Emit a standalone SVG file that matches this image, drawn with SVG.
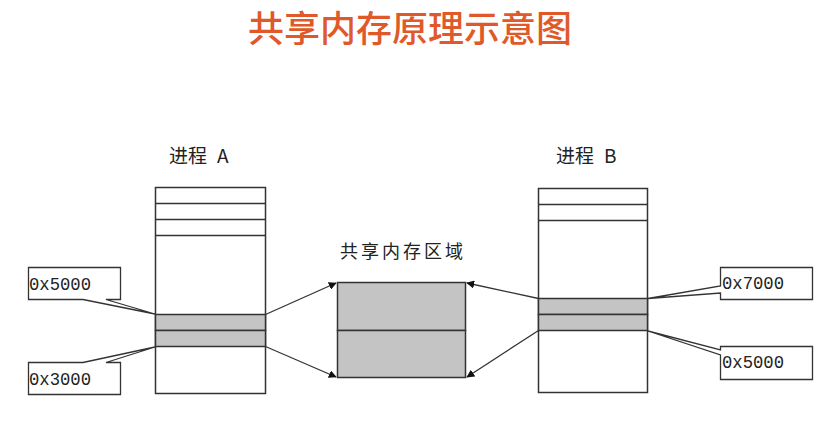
<svg xmlns="http://www.w3.org/2000/svg" width="839" height="426" viewBox="0 0 839 426">
<style>
.box{fill:#fff;stroke:#333;stroke-width:1.5}
.shade{fill:#c4c4c4;stroke:#333;stroke-width:1.5}
.ln{stroke:#333;stroke-width:1.5;fill:none}
.cj{font-family:"Noto Sans CJK SC","Noto Sans",sans-serif;fill:#222}
.mono{font-family:"Liberation Mono","DejaVu Sans Mono",monospace;font-size:19px;fill:#222}
.call{fill:#fff;stroke:#333;stroke-width:1.3}
.arr{stroke:#333;stroke-width:1.3;fill:none;marker-end:url(#ah)}
</style>
<defs>
<marker id="ah" viewBox="0 0 10 10" refX="9" refY="5" markerWidth="8" markerHeight="8" markerUnits="userSpaceOnUse" orient="auto">
<path d="M0,0 L10,5 L0,10 Z" fill="#111"/>
</marker>
</defs>
<rect width="839" height="426" fill="#fff"/>
<text id="title" x="410" y="42" text-anchor="middle" class="cj" style="font-size:36px;fill:#E0592A;font-weight:500">共享内存原理示意图</text>

<g id="processA">
<text x="169" y="163" class="cj" style="font-size:19px">进程<tspan x="217">A</tspan></text>
<rect x="155.5" y="187.5" width="110" height="206" class="box"/>
<line x1="155.5" y1="203.5" x2="265.5" y2="203.5" class="ln"/>
<line x1="155.5" y1="219.5" x2="265.5" y2="219.5" class="ln"/>
<line x1="155.5" y1="235.5" x2="265.5" y2="235.5" class="ln"/>
<rect x="155.5" y="314.5" width="110" height="16" class="shade"/>
<rect x="155.5" y="330.5" width="110" height="16" class="shade"/>
</g>

<g id="processB">
<text x="556" y="163" class="cj" style="font-size:19px">进程<tspan x="604">B</tspan></text>
<rect x="538.5" y="188.5" width="109" height="204" class="box"/>
<line x1="538.5" y1="204.5" x2="647.5" y2="204.5" class="ln"/>
<line x1="538.5" y1="220.5" x2="647.5" y2="220.5" class="ln"/>
<rect x="538.5" y="298.5" width="109" height="16" class="shade"/>
<rect x="538.5" y="314.5" width="109" height="16" class="shade"/>
</g>

<g id="shared">
<text x="403" y="258" text-anchor="middle" class="cj" style="font-size:18px;letter-spacing:3px">共享内存区域</text>
<rect x="337.5" y="282.5" width="128" height="48" class="shade"/>
<rect x="337.5" y="330.5" width="128" height="47" class="shade"/>
</g>

<g id="labelA5000">
<path d="M28.5,267.5 H120.5 V299.5 H106 L155,314 L83,299.5 H28.5 Z" class="call"/>
<text x="29" y="290" class="mono" textLength="62" lengthAdjust="spacingAndGlyphs">0x5000</text>
</g>
<g id="labelA3000">
<path d="M28.5,362.5 H83 L155,347 L106,362.5 H120.5 V394.5 H28.5 Z" class="call"/>
<text x="29" y="385" class="mono" textLength="62" lengthAdjust="spacingAndGlyphs">0x3000</text>
</g>
<g id="labelB7000">
<path d="M720.5,267.5 H812.5 V299.5 H720.5 V293 L648,298.5 L720.5,286 Z" class="call"/>
<text x="722" y="289" class="mono" textLength="62" lengthAdjust="spacingAndGlyphs">0x7000</text>
</g>
<g id="labelB5000">
<path d="M720.5,346.5 H812.5 V379.5 H720.5 V355 L648,331 L720.5,350 Z" class="call"/>
<text x="722" y="368" class="mono" textLength="62" lengthAdjust="spacingAndGlyphs">0x5000</text>
</g>

<g id="connectors">
<line x1="265.5" y1="314.5" x2="336" y2="283" class="arr"/>
<line x1="265.5" y1="346.5" x2="336" y2="377" class="arr"/>
<line x1="538.5" y1="298.5" x2="467" y2="283" class="arr"/>
<line x1="538.5" y1="330.5" x2="467" y2="377" class="arr"/>
</g>
</svg>
